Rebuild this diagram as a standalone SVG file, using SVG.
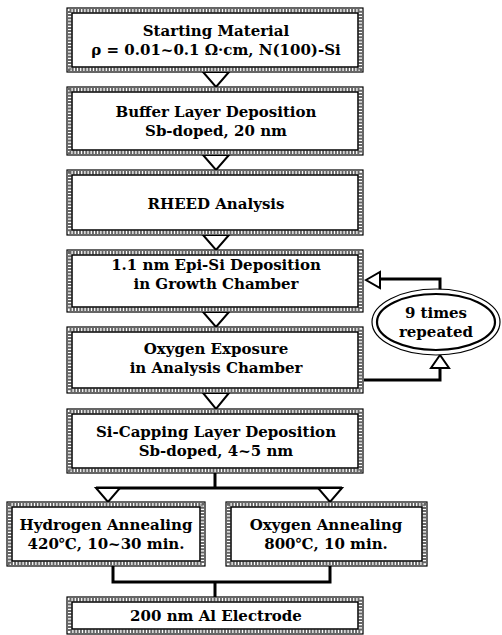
<svg xmlns="http://www.w3.org/2000/svg" width="502" height="635" viewBox="0 0 502 635">
<defs>
<style>
.o{fill:#fff;stroke:#000;stroke-width:1.2}
.b{fill:none;stroke:#666;stroke-width:4;stroke-dasharray:2 1.2}
.i{fill:none;stroke:#000;stroke-width:1.5}
.t{font-family:"DejaVu Serif","Liberation Serif",serif;font-weight:bold;font-size:15px;fill:#000;text-anchor:middle}
.c{fill:none;stroke:#000;stroke-width:3}
.a{fill:#fff;stroke:#000;stroke-width:2;stroke-linejoin:miter}
</style>
</defs>
<rect width="502" height="635" fill="#fff"/>
<g id="connectors">
<polygon class="a" points="203,72 229,72 216,87"/>
<polygon class="a" points="203,155 229,155 216,170"/>
<polygon class="a" points="203,235 229,235 216,250"/>
<polygon class="a" points="203,312 229,312 216,327"/>
<polygon class="a" points="203,393 229,393 216,409"/>
<line class="c" x1="215" y1="473" x2="215" y2="488"/>
<line class="c" x1="96" y1="488" x2="342" y2="488"/>
<polygon class="a" points="96,488 120,488 108,502"/>
<polygon class="a" points="318,488 342,488 330,502"/>
<polyline class="c" points="113,566 113,582 330,582 330,566"/>
<line class="c" x1="215" y1="582" x2="215" y2="597"/>
<polyline class="c" points="380,279 440,279 440,290"/>
<polygon class="a" points="366,280 380,272 380,288"/>
<polyline class="c" points="440,368 440,380 364,380"/>
<polygon class="a" points="440,355 431,368 449,368"/>
</g>
<g id="n1">
<rect class="o" x="67" y="8" width="296" height="64"/><rect class="b" x="69.5" y="10.5" width="291" height="59"/><rect class="i" x="72" y="13" width="286" height="54"/>
<text class="t" x="216" y="36">Starting Material</text>
<text class="t" x="216" y="55">ρ = 0.01~0.1 Ω·cm, N(100)-Si</text>
</g>
<g id="n2">
<rect class="o" x="67" y="87" width="296" height="68"/><rect class="b" x="69.5" y="89.5" width="291" height="63"/><rect class="i" x="72" y="92" width="286" height="58"/>
<text class="t" x="216" y="117">Buffer Layer Deposition</text>
<text class="t" x="216" y="136">Sb-doped, 20 nm</text>
</g>
<g id="n3">
<rect class="o" x="67" y="170" width="296" height="65"/><rect class="b" x="69.5" y="172.5" width="291" height="60"/><rect class="i" x="72" y="175" width="286" height="55"/>
<text class="t" x="216" y="209">RHEED Analysis</text>
</g>
<g id="n4">
<rect class="o" x="67" y="250" width="296" height="62"/><rect class="b" x="69.5" y="252.5" width="291" height="57"/><rect class="i" x="72" y="255" width="286" height="52"/>
<text class="t" x="216" y="270">1.1 nm Epi-Si Deposition</text>
<text class="t" x="216" y="289">in Growth Chamber</text>
</g>
<g id="n5">
<rect class="o" x="67" y="327" width="296" height="66"/><rect class="b" x="69.5" y="329.5" width="291" height="61"/><rect class="i" x="72" y="332" width="286" height="56"/>
<text class="t" x="216" y="354">Oxygen Exposure</text>
<text class="t" x="216" y="373">in Analysis Chamber</text>
</g>
<g id="n6">
<rect class="o" x="67" y="409" width="296" height="64"/><rect class="b" x="69.5" y="411.5" width="291" height="59"/><rect class="i" x="72" y="414" width="286" height="54"/>
<text class="t" x="216" y="437">Si-Capping Layer Deposition</text>
<text class="t" x="216" y="456">Sb-doped, 4~5 nm</text>
</g>
<g id="n7">
<rect class="o" x="7" y="502" width="198" height="64"/><rect class="b" x="9.5" y="504.5" width="193" height="59"/><rect class="i" x="12" y="507" width="188" height="54"/>
<text class="t" x="106" y="530">Hydrogen Annealing</text>
<text class="t" x="106" y="549">420℃, 10~30 min.</text>
</g>
<g id="n8">
<rect class="o" x="226" y="502" width="201" height="64"/><rect class="b" x="228.5" y="504.5" width="196" height="59"/><rect class="i" x="231" y="507" width="191" height="54"/>
<text class="t" x="326" y="530">Oxygen Annealing</text>
<text class="t" x="326" y="549">800℃, 10 min.</text>
</g>
<g id="n9">
<rect class="o" x="67" y="597" width="296" height="37"/><rect class="b" x="69.5" y="599.5" width="291" height="32"/><rect class="i" x="72" y="602" width="286" height="27"/>
<text class="t" x="216" y="621">200 nm Al Electrode</text>
</g>
<g id="n10">
<ellipse cx="436" cy="322" rx="64" ry="33" fill="#fff" stroke="#000" stroke-width="1.2"/>
<ellipse cx="436" cy="322" rx="59" ry="28" fill="none" stroke="#000" stroke-width="2.2"/>
<text class="t" x="436" y="318">9 times</text>
<text class="t" x="436" y="337">repeated</text>
</g>
</svg>
